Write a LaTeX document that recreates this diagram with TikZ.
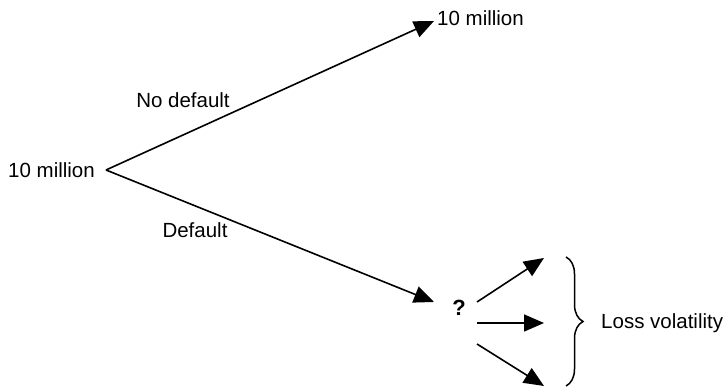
\documentclass[tikz,border=0pt]{standalone}
\usepackage{fontspec}
\setmainfont{Liberation Sans}
\usetikzlibrary{arrows.meta, positioning, decorations.pathreplacing}
\tikzset{
	lbl/.style      ={inner sep=1pt, font=\fontsize{20.5}{24}\selectfont},
	branch/.style   ={-{Triangle[length=20pt, width=17pt]}, line width=1.6pt},
	lossbrace/.style={decorate, decoration={brace, amplitude=17pt}, line width=1.5pt},
}
\begin{document}
\begin{tikzpicture}[x=1pt, y=1pt]
	\useasboundingbox (0,0) rectangle (727,387);
	% tree: start value, the two outcomes
	\coordinate (root) at (106,217);
	\node[lbl, anchor=east] (start) at (96,217) {10 million};
	\node[lbl, anchor=west] (up) at (436,369) {10 million};
	\node[lbl, font=\fontsize{22}{26}\selectfont\bfseries] (q) at (459,79) {?};
	\draw[branch] (root) -- ([xshift=-2pt,yshift=-3pt]up.west);
	\draw[branch] (root) -- ([xshift=-25pt,yshift=6pt]q.center);
	\node[lbl] (nod) at (183,287) {No default};
	\node[lbl] (def) at (195,157) {Default};
	% loss outcomes after default
	\coordinate (hi) at (544,129);
	\coordinate (mid) at (544,64);
	\coordinate (lo) at (544,1);
	\draw[branch] ([xshift=18pt,yshift=6pt]q.center) -- (hi);
	\draw[branch] ([xshift=18pt,yshift=-15pt]q.center) -- (mid);
	\draw[branch] ([xshift=18pt,yshift=-36pt]q.center) -- (lo);
	\coordinate (btop) at (566,130);
	\coordinate (bbot) at (566,1);
	\draw[lossbrace] (btop) -- (bbot);
	\node[lbl, anchor=west] (loss) at (600,64) {Loss volatility};
\end{tikzpicture}
\end{document}
